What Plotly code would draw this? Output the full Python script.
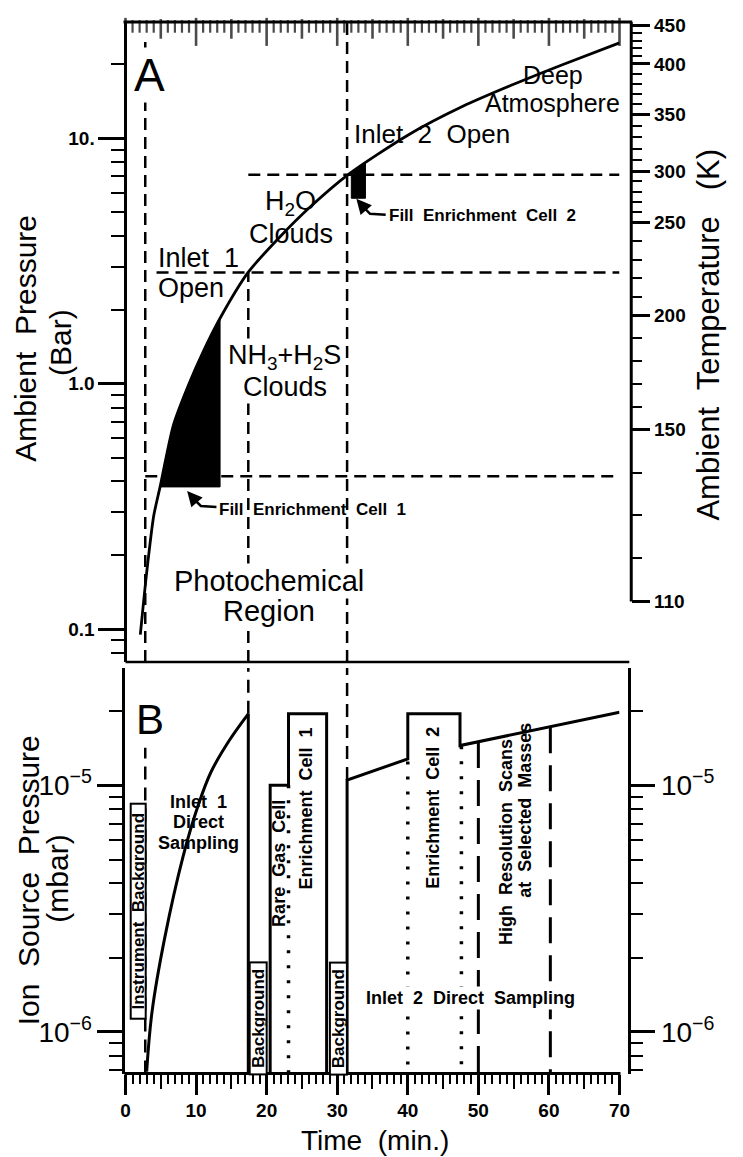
import numpy as np
import plotly.graph_objects as go

# page is 743x1157; the HTML body has an 8px margin, so the figure is 8px smaller
OFF = 8
W, H = 743 - OFF, 1157 - OFF
FONT = "Liberation Sans"

# ---------------- Panel A data (time in min, ambient pressure in bar) ----------------
t_curve = [2.1, 3.0, 4.0, 4.9, 6.8, 9.0, 11.0, 13.4, 17.4, 22.0, 26.0, 31.5, 40.0, 47.8, 55.0, 62.0, 70.0]
p_curve = [0.095, 0.17, 0.29, 0.38, 0.68, 1.0, 1.35, 1.85, 2.85, 4.0, 5.2, 7.1, 10.3, 13.5, 16.6, 20.0, 24.5]

fill1_t = [4.9, 6.8, 9.0, 11.0, 13.4, 13.4, 4.9]
fill1_p = [0.38, 0.68, 1.0, 1.35, 1.85, 0.38, 0.38]
fill2_t = [32.0, 34.0, 34.0, 32.0, 32.0]
fill2_p = [7.3, 7.9, 5.7, 5.7, 7.3]

# event markers
t_inlet1_open = 2.8
t_cloud1 = 17.4
t_inlet2_open = 31.4
p_levels = [7.1, 2.84, 0.42]          # horizontal dashed levels (bar)
p_level_start = [17.4, 4.4, 2.8]      # time where each level line starts

# temperature scale (K) and matching pressures (bar)
T_major = [110, 150, 200, 250, 300, 350, 400, 450]
T_press = [0.130, 0.65, 1.90, 4.55, 7.35, 12.5, 20.1, 28.9]

# ---------------- Panel B data (ion source pressure, mbar) ----------------
B_FLOOR = 6.78e-7
tB_inlet1 = [3.0, 3.75, 5.55, 8.2, 10.3, 12.1, 14.7, 17.4]
pB_inlet1 = [6.9e-7, 1.2e-6, 2.4e-6, 5.2e-6, 8.3e-6, 1.13e-5, 1.52e-5, 1.95e-5]
tB_drop1 = [17.4, 17.4]
pB_drop1 = [1.95e-5, B_FLOOR]
tB_cell1 = [20.5, 20.5, 23.1, 23.1, 28.5, 28.5]
pB_cell1 = [B_FLOOR, 1.0e-5, 1.0e-5, 1.95e-5, 1.95e-5, B_FLOOR]
tB_inlet2 = [31.4, 31.4, 40.0, 40.0, 47.4, 47.4, 70.0]
pB_inlet2 = [B_FLOOR, 1.05e-5, 1.28e-5, 1.95e-5, 1.95e-5, 1.45e-5, 1.98e-5]
t_dotted = [23.1, 40.0, 47.6]
p_dotted_top = [1.0e-5, 1.25e-5, 1.44e-5]
t_dashedB = [50.0, 60.2]
p_dashedB_top = [1.5e-5, 1.72e-5]
p_inlet1_mark_top = 1.42e-5           # where the inlet-1 dashed marker resumes in panel B

time_ticks = list(range(0, 71, 10))
T_RANGE = [0, 70]

# ---------------- axis ranges ----------------
A_LOG = [np.log10(0.0735), 1.4742]
B_LOG = [-6.169, -4.524]
A_TOP = 10 ** A_LOG[1]
A_BOT = 10 ** A_LOG[0]
B_TOP = 10 ** B_LOG[1]

A_PIX = (15, 659)   # page rows of panel A top / bottom
B_PIX = (665, 1073)


def px(x):
    return (x - OFF) / W


def py(y):
    return 1 - (y - OFF) / H


XL, XR = 123, 628   # page pixels of t=0 and t=70

fig = go.Figure()
BLK = "black"
dashA = "12px,7px"

# ---- Panel A ----
for t, lo, hi in [(t_inlet1_open, A_BOT, 26.0), (t_cloud1, A_BOT, p_levels[1]), (t_inlet2_open, A_BOT, A_TOP)]:
    fig.add_trace(go.Scatter(x=[t, t], y=[lo, hi], xaxis="x", yaxis="y", mode="lines",
                             line=dict(color=BLK, width=2.5, dash=dashA), hoverinfo="skip"))
for p, t0 in zip(p_levels, p_level_start):
    fig.add_trace(go.Scatter(x=[t0, 70], y=[p, p], xaxis="x", yaxis="y", mode="lines",
                             line=dict(color=BLK, width=2.5, dash=dashA), hoverinfo="skip"))
fig.add_trace(go.Scatter(x=fill1_t, y=fill1_p, xaxis="x", yaxis="y", mode="lines", fill="toself",
                         fillcolor=BLK, line=dict(color=BLK, width=1), hoverinfo="skip"))
fig.add_trace(go.Scatter(x=fill2_t, y=fill2_p, xaxis="x", yaxis="y", mode="lines", fill="toself",
                         fillcolor=BLK, line=dict(color=BLK, width=1), hoverinfo="skip"))
fig.add_trace(go.Scatter(x=t_curve, y=p_curve, xaxis="x", yaxis="y", mode="lines",
                         line=dict(color=BLK, width=2.8, shape="spline", smoothing=0.7), hoverinfo="skip"))

# top time scale of panel A: tick marks hanging from the top frame, placed on the time axis
tick_t = list(range(T_RANGE[0], T_RANGE[1] + 1))
tick_len = [20 if t % 10 == 0 else (14 if t % 5 == 0 else 9) for t in tick_t]
dec_per_px = (A_LOG[1] - A_LOG[0]) / (A_PIX[1] - A_PIX[0])
tick_y = [10 ** (A_LOG[1] - dec_per_px * L / 2) for L in tick_len]
fig.add_trace(go.Scatter(x=tick_t, y=tick_y, xaxis="x", yaxis="y", mode="markers", cliponaxis=False,
                         marker=dict(symbol="line-ns", size=tick_len,
                                     line=dict(color=BLK, width=[2.6 if t % 5 == 0 else 2.2 for t in tick_t])),
                         hoverinfo="skip"))

# ---- Panel B ----
for t, lo, hi in [(t_inlet1_open, B_FLOOR, p_inlet1_mark_top), (t_cloud1, pB_drop1[0], B_TOP),
                  (t_inlet2_open, pB_inlet2[1], B_TOP)]:
    fig.add_trace(go.Scatter(x=[t, t], y=[lo, hi], xaxis="x", yaxis="y3", mode="lines",
                             line=dict(color=BLK, width=2.5, dash="13px,8px"), hoverinfo="skip"))
for t, top in zip(t_dotted, p_dotted_top):
    fig.add_trace(go.Scatter(x=[t, t], y=[top, B_FLOOR], xaxis="x", yaxis="y3", mode="lines",
                             line=dict(color=BLK, width=3.5, dash="3px,12px"), hoverinfo="skip"))
for t, top in zip(t_dashedB, p_dashedB_top):
    fig.add_trace(go.Scatter(x=[t, t], y=[top, B_FLOOR], xaxis="x", yaxis="y3", mode="lines",
                             line=dict(color=BLK, width=3, dash="26px,12px"), hoverinfo="skip"))
fig.add_trace(go.Scatter(x=tB_inlet1, y=pB_inlet1, xaxis="x", yaxis="y3", mode="lines",
                         line=dict(color=BLK, width=3, shape="spline", smoothing=1.0), hoverinfo="skip"))
for tt, pp in [(tB_drop1, pB_drop1), (tB_cell1, pB_cell1), (tB_inlet2, pB_inlet2)]:
    fig.add_trace(go.Scatter(x=tt, y=pp, xaxis="x", yaxis="y3", mode="lines",
                             line=dict(color=BLK, width=3), hoverinfo="skip"))

# helper (empty) traces so overlay axes get drawn
fig.add_trace(go.Scatter(x=[], y=[], xaxis="x3", yaxis="y3"))
fig.add_trace(go.Scatter(x=[], y=[], xaxis="x", yaxis="y2"))
fig.add_trace(go.Scatter(x=[], y=[], xaxis="x", yaxis="y4"))

# ---------------- axes ----------------
xdom = [px(XL), px(XR)]
minor_t = [i for i in range(71) if i % 5]
mid_t = list(range(5, 70, 10))
tickfont_b = dict(family=FONT, size=19, color=BLK, weight="bold")

common_x = dict(domain=xdom, range=T_RANGE, showgrid=False, zeroline=False, tickcolor=BLK)
fig.update_layout(
    xaxis=dict(**common_x, anchor="y3", side="bottom", showline=False,
               ticks="outside", ticklen=20, tickwidth=2.5, tickvals=time_ticks,
               ticktext=[str(v) for v in time_ticks], tickfont=tickfont_b, ticklabeloverflow="allow",
               minor=dict(tickvals=minor_t, ticks="outside", ticklen=9, tickwidth=2, tickcolor=BLK)),
    xaxis3=dict(**common_x, anchor="y3", overlaying="x", side="bottom", showline=False,
                ticks="outside", ticklen=14, tickwidth=2.2, tickvals=mid_t, showticklabels=False),
)

A_dom = [py(A_PIX[1]), py(A_PIX[0])]
B_dom = [py(B_PIX[1]), py(B_PIX[0])]
A_minor = [0.08, 0.09] + [i / 10 for i in range(2, 10)] + list(range(2, 10)) + [20]
T_minor = [T for T in range(110, 451, 10) if T not in T_major]
T_minor_p = list(10 ** np.interp(T_minor, T_major, np.log10(T_press)))
B_minor = [7e-7, 8e-7, 9e-7] + [i * 1e-6 for i in range(2, 10)] + [2e-5, 3e-5]
b_ticktext = ["10<sup>−6</sup>", "10<sup>−5</sup>"]

fig.update_layout(
    yaxis=dict(domain=A_dom, type="log", range=A_LOG, anchor="free", position=px(XL), side="left",
               showline=True, linewidth=3, linecolor=BLK, showgrid=False, zeroline=False,
               ticks="outside", ticklen=26, tickwidth=2.5, tickcolor=BLK, ticklabeloverflow="allow",
               tickvals=[0.1, 1, 10], ticktext=["0.1", "1.0", "10."], tickfont=tickfont_b,
               minor=dict(tickvals=A_minor, ticks="outside", ticklen=13, tickwidth=2, tickcolor=BLK)),
    yaxis2=dict(type="log", range=A_LOG, overlaying="y", anchor="free", position=px(640), side="right",
                showline=False, showgrid=False, zeroline=False, ticklabeloverflow="allow",
                ticks="outside", ticklen=18, tickwidth=2.5, tickcolor=BLK,
                tickvals=T_press, ticktext=[str(T) for T in T_major], tickfont=tickfont_b,
                minor=dict(tickvals=T_minor_p, ticks="outside", ticklen=10, tickwidth=2, tickcolor=BLK)),
    yaxis3=dict(domain=B_dom, type="log", range=B_LOG, anchor="x", side="left",
                showline=True, linewidth=3, linecolor=BLK, showgrid=False, zeroline=False,
                ticks="outside", ticklen=25, tickwidth=2.5, tickcolor=BLK, ticklabeloverflow="allow",
                tickvals=[1e-6, 1e-5], ticktext=b_ticktext,
                tickfont=dict(family=FONT, size=28, color=BLK),
                minor=dict(tickvals=B_minor, ticks="outside", ticklen=13, tickwidth=2, tickcolor=BLK)),
    yaxis4=dict(type="log", range=B_LOG, overlaying="y3", anchor="free", position=px(638), side="right",
                showline=True, linewidth=3, linecolor=BLK, showgrid=False, zeroline=False,
                ticks="outside", ticklen=24, tickwidth=2.5, tickcolor=BLK, ticklabeloverflow="allow",
                tickvals=[1e-6, 1e-5], ticktext=b_ticktext,
                tickfont=dict(family=FONT, size=28, color=BLK),
                minor=dict(tickvals=B_minor, ticks="outside", ticklen=12, tickwidth=2, tickcolor=BLK)),
)

# ---------------- frame lines (shapes) ----------------
shapes = [
    dict(type="line", xref="paper", yref="paper", x0=px(121), x1=px(641), y0=py(15), y1=py(15),
         line=dict(color=BLK, width=3)),
    dict(type="line", xref="paper", yref="paper", x0=px(640), x1=px(640), y0=py(15), y1=py(598),
         line=dict(color=BLK, width=3)),
    dict(type="line", xref="paper", yref="paper", x0=px(123), x1=px(638), y0=py(659), y1=py(659),
         line=dict(color=BLK, width=2.5)),
    dict(type="line", xref="paper", yref="paper", x0=px(122), x1=px(629), y0=py(1073), y1=py(1073),
         line=dict(color=BLK, width=3)),
    # bent arrow tails
    dict(type="path", xref="paper", yref="paper",
         path=f"M {px(216)} {py(503)} L {px(200)} {py(502)} L {px(192)} {py(494)}",
         line=dict(color=BLK, width=2.5)),
    dict(type="path", xref="paper", yref="paper",
         path=f"M {px(389)} {py(209)} L {px(373)} {py(208)} L {px(365)} {py(200)}",
         line=dict(color=BLK, width=2.5)),
]

ann = []


def text(x, y, s, size=27, bold=False, angle=0, xanchor="center", align="center", bg=None,
         border=None, w=None, h=None, pad=1):
    d = dict(x=px(x), y=py(y), xref="paper", yref="paper", text=s, showarrow=False,
             xanchor=xanchor, yanchor="middle", align=align, textangle=angle,
             font=dict(family=FONT, size=size, color=BLK, weight="bold" if bold else "normal"),
             borderpad=pad)
    if bg:
        d["bgcolor"] = bg
    if border:
        d["bordercolor"] = border
        d["borderwidth"] = 2
    if w:
        d["width"] = w
    if h:
        d["height"] = h
    ann.append(d)


# Panel A texts
text(148, 68, "A", size=46, bg="white")
text(560, 68, "Deep", size=25)
text(560, 97, "Atmosphere", size=25)
text(355, 128, "Inlet  2  Open", size=26, xanchor="left")
text(292, 197, "H<sub>2</sub>O", size=27)
text(292, 228, "Clouds", size=27)
text(154, 252, "Inlet  1", size=27, xanchor="left")
text(154, 283, "Open", size=27, xanchor="left")
text(286, 352, "NH<sub>3</sub>+H<sub>2</sub>S", size=27, bg="white")
text(286, 382, "Clouds", size=27, bg="white")
text(270, 577, "Photochemical", size=29, bg="white")
text(270, 608, "Region", size=29, bg="white")
text(217, 506, "Fill  Enrichment  Cell  1", size=17, bold=True, xanchor="left")
text(390, 210, "Fill  Enrichment  Cell  2", size=17, bold=True, xanchor="left")
text(20, 333, "Ambient  Pressure", size=30, angle=-90)
text(57, 337, "(Bar)", size=30, angle=-90)
text(718, 330, "Ambient  Temperature   (K)", size=31, angle=-90)

# Panel B texts
text(148, 717, "B", size=42, bg="white")
text(24, 879, "Ion  Source  Pressure", size=30, angle=-90)
text(54, 877, "(mbar)", size=30, angle=-90)
text(198, 800, "Inlet  1", size=18, bold=True)
text(198, 820, "Direct", size=18, bold=True)
text(198, 841, "Sampling", size=18, bold=True)
text(136, 910, "Instrument  Background", size=17, bold=True, angle=-90, bg="white", border=BLK,
     w=213, h=13, pad=0)
text(259, 1018, "Background", size=17, bold=True, angle=-90, bg="white", border=BLK, w=110, h=15, pad=0)
text(341, 1018, "Background", size=17, bold=True, angle=-90, bg="white", border=BLK, w=110, h=15, pad=0)
text(280, 862, "Rare  Gas  Cell", size=18, bold=True, angle=-90)
text(308, 806, "Enrichment  Cell  1", size=18, bold=True, angle=-90)
text(437, 806, "Enrichment  Cell  2", size=18, bold=True, angle=-90)
text(476, 997, "Inlet  2  Direct  Sampling", size=18, bold=True, bg="white")
text(512, 840, "High  Resolution  Scans", size=18, bold=True, angle=-90)
text(532, 808, "at  Selected  Masses", size=18, bold=True, angle=-90)
text(378, 1140, "Time  (min.)", size=28)

# arrow heads
for (hx, hy, ax_, ay_) in [(186, 487, 193, 495), (359, 193, 366, 201)]:
    ann.append(dict(x=px(hx), y=py(hy), xref="paper", yref="paper", ax=ax_ - hx, ay=ay_ - hy,
                    axref="pixel", ayref="pixel", text="", showarrow=True, arrowhead=2,
                    arrowsize=1.2, arrowwidth=2.5, arrowcolor=BLK, standoff=0))

fig.update_layout(width=W, height=H, margin=dict(l=0, r=0, t=0, b=0), autosize=False,
                  paper_bgcolor="white", plot_bgcolor="white", showlegend=False,
                  shapes=shapes, annotations=ann, font=dict(family=FONT, color=BLK))

fig.write_html("out.html")
